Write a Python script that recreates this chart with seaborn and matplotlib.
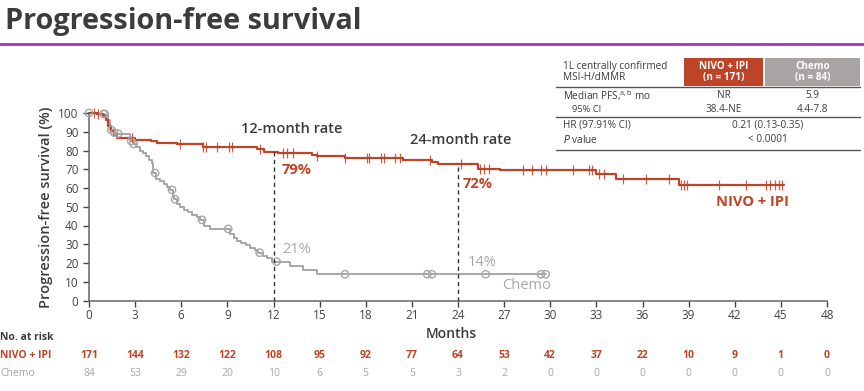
import numpy as np
import matplotlib
import matplotlib.pyplot as plt
import seaborn as sns
from matplotlib.patches import Rectangle
from matplotlib.lines import Line2D

matplotlib.use('Agg')

# --- data ---
nivo_times = [0, 0.5, 0.9, 1.1, 1.25, 1.4, 1.6, 1.85, 3.0, 4.0, 4.4, 5.7, 7.4, 10.9, 11.4,
              12.3, 14.5, 14.8, 16.65, 20.4, 22.3, 22.7, 25.3, 26.7, 33.0, 34.3, 38.4, 45.2]
nivo_pfs = [100, 99.3, 98.5, 96.5, 93, 90.5, 88.5, 86.5, 85.8, 85.2, 84.2, 83.3, 82.0, 80.6, 79.2,
            78.7, 77.5, 77.0, 76.0, 75.0, 73.7, 72.7, 70.3, 69.4, 67.7, 64.8, 61.6, 61.6]
nivo_censor = [0.3, 0.6, 2.8, 5.9, 7.4, 7.6, 8.3, 9.1, 9.3, 11.1, 12.6, 12.9, 13.3, 14.8, 16.65,
               18.1, 18.2, 19.0, 19.2, 19.9, 20.2, 22.2, 24.2, 25.4, 25.7, 26.0, 28.2, 28.8,
               29.4, 29.7, 31.5, 32.5, 32.7, 33.2, 33.5, 34.7, 36.2, 37.7, 38.5, 38.7, 38.9,
               41.0, 42.7, 44.0, 44.3, 44.6, 44.9, 45.1]

chemo_times = [0, 0.5, 1.05, 1.25, 1.35, 1.6, 1.8, 2.65, 2.9, 3.05, 3.3, 3.5, 3.7, 3.9, 4.1,
               4.15, 4.35, 4.6, 4.85, 5.1, 5.3, 5.45, 5.55, 5.75, 5.95, 6.2, 6.45, 6.7, 7.0,
               7.2, 7.5, 7.85, 9.15, 9.4, 9.65, 9.9, 10.2, 10.5, 10.8, 11.0, 11.3, 11.6, 11.9,
               13.05, 13.9, 14.8, 29.7]
chemo_pfs = [100, 99.5, 99, 96.5, 91, 89.5, 89, 85, 83.5, 82, 80, 78.5, 77, 75, 73.5,
             68, 65, 63.5, 62, 60.5, 59, 56, 54, 51.5, 50, 48.5, 47, 45.5, 44.5,
             43, 40, 38.2, 35.5, 33.5, 32, 30.5, 29.5, 28, 27, 25.5, 23.5, 22.5, 20.7,
             18.6, 16.3, 14.0, 14.0]
chemo_censor = [0, 0.95, 1.02, 1.45, 1.65, 1.9, 2.75, 2.9, 4.3, 5.4, 5.6, 7.35, 9.05, 11.1,
                12.2, 16.65, 22.0, 22.3, 25.8, 29.4, 29.7]

risk_months = list(range(0, 49, 3))
nivo_at_risk = [171, 144, 132, 122, 108, 95, 92, 77, 64, 53, 42, 37, 22, 10, 9, 1, 0]
chemo_at_risk = [84, 53, 29, 20, 10, 6, 5, 5, 3, 2, 0, 0, 0, 0, 0, 0, 0]

RED = '#bd4427'
GREY = '#a7a7a7'
DARK = '#3c3c3c'
W, H = 864, 391

sns.set_style('ticks')
plt.rcParams['font.family'] = ['Open Sans', 'DejaVu Sans']
plt.rcParams['mathtext.default'] = 'regular'


def px(x, y):
    return x / W, 1 - y / H


def step_value(times, vals, t):
    idx = np.searchsorted(times, t, side='right') - 1
    return np.asarray(vals)[idx]


fig = plt.figure(figsize=(W / 100, H / 100), dpi=100)
ax = fig.add_axes([89 / W, 90.5 / H, 738 / W, 187.5 / H])

# curves
sns.lineplot(x=chemo_times, y=chemo_pfs, ax=ax, color=GREY, lw=1.4,
             drawstyle='steps-post', estimator=None, clip_on=False)
sns.lineplot(x=nivo_times, y=nivo_pfs, ax=ax, color=RED, lw=1.6,
             drawstyle='steps-post', estimator=None, clip_on=False)

# censor marks
sns.scatterplot(x=chemo_censor, y=step_value(chemo_times, chemo_pfs, chemo_censor), ax=ax,
                marker='o', s=28, facecolor='none', edgecolor=GREY, linewidth=1.0,
                clip_on=False, zorder=4)
ax.plot(nivo_censor, step_value(nivo_times, nivo_pfs, nivo_censor), ls='none',
        marker='|', ms=6.5, mew=0.9, color=RED, alpha=0.85, clip_on=False, zorder=5)

# landmark lines
for m in (12, 24):
    yv = step_value(nivo_times, nivo_pfs, m)
    ax.plot([m, m], [0, yv], ls=(0, (3, 2.5)), color='#333333', lw=1.0, zorder=3)

ax.text(13.2, 91.5, '12-month rate', ha='center', va='center', fontsize=10.5,
        fontweight='semibold', color=DARK)
ax.text(24.2, 85.8, '24-month rate', ha='center', va='center', fontsize=10.5,
        fontweight='semibold', color=DARK)
ax.text(12.5, 69.8, '79%', ha='left', va='center', fontsize=10.5, fontweight='bold', color=RED)
ax.text(24.3, 62.3, '72%', ha='left', va='center', fontsize=10.5, fontweight='bold', color=RED)
ax.text(12.6, 27, '21%', ha='left', va='center', fontsize=10.5, color=GREY)
ax.text(24.6, 20, '14%', ha='left', va='center', fontsize=10.5, color=GREY)
ax.text(26.9, 7.8, 'Chemo', ha='left', va='center', fontsize=10.5, color=GREY)
ax.text(40.8, 52.7, 'NIVO + IPI', ha='left', va='center', fontsize=10.5,
        fontweight='bold', color=RED)

ax.set_xlim(0, 48)
ax.set_ylim(0, 100)
ax.set_xticks(risk_months)
ax.set_yticks(range(0, 101, 10))
ax.tick_params(axis='both', labelsize=8.5, colors='#444444', length=4, width=1)
ax.tick_params(axis='x', pad=2)
for s in ('left', 'bottom'):
    ax.spines[s].set_color('#666666')
    ax.spines[s].set_linewidth(1.1)
sns.despine(ax=ax)
ax.set_ylabel('Progression-free survival (%)', fontsize=10.5, fontweight='semibold',
              color=DARK, labelpad=4)
ax.set_xlabel('')

# title and rule
fig.text(*px(5, 21), 'Progression-free survival', fontsize=20.8, fontweight='bold',
         color=DARK, ha='left', va='center')
fig.add_artist(Line2D([0, 1], [1 - 43.5 / H] * 2, color='#b52fb5', lw=2))

# months label and at-risk table
fig.text(*px(451, 334), 'Months', fontsize=10, fontweight='semibold', color=DARK,
         ha='center', va='center')
fig.text(*px(0, 338), 'No. at risk', fontsize=7.5, fontweight='bold', color=DARK,
         ha='left', va='center')
fig.text(*px(0, 355), 'NIVO + IPI', fontsize=7.5, fontweight='bold', color=RED,
         ha='left', va='center')
fig.text(*px(0, 373), 'Chemo', fontsize=7.5, color=GREY, ha='left', va='center')
tr = ax.get_xaxis_transform()
for m, a, b in zip(risk_months, nivo_at_risk, chemo_at_risk):
    ax.text(m, -(355 - 300.5) / 187.5, str(a), transform=tr, ha='center', va='center',
            fontsize=7.5, fontweight='bold', color=RED, clip_on=False)
    ax.text(m, -(373 - 300.5) / 187.5, str(b), transform=tr, ha='center', va='center',
            fontsize=7.5, color=GREY, clip_on=False)

# summary table (top right)
fig.add_artist(Rectangle(px(684, 86), 79 / W, 28 / H, color=RED, lw=0))
fig.add_artist(Rectangle(px(765, 86), 95 / W, 28 / H, color='#a9a4a4', lw=0))
fs = 7.2
fig.text(*px(563, 72), '1L centrally confirmed\nMSI-H/dMMR', fontsize=fs, color=DARK,
         ha='left', va='center', linespacing=1.05)
fig.text(*px(723.5, 72), 'NIVO + IPI\n(n = 171)', fontsize=fs, color='white',
         fontweight='bold', ha='center', va='center', linespacing=1.05)
fig.text(*px(812.5, 72), 'Chemo\n(n = 84)', fontsize=fs, color='white',
         fontweight='bold', ha='center', va='center', linespacing=1.05)
for yy in (87, 117, 150):
    fig.add_artist(Line2D([556 / W, 860 / W], [1 - yy / H] * 2, color='#555555', lw=1.0))
fig.text(*px(563, 96), 'Median PFS,$^{a,b}$ mo', fontsize=fs, color=DARK, ha='left', va='center')
fig.text(*px(723.5, 96), 'NR', fontsize=fs, color=DARK, ha='center', va='center')
fig.text(*px(812.5, 96), '5.9', fontsize=fs, color=DARK, ha='center', va='center')
fig.text(*px(572, 109), '95% CI', fontsize=fs - 0.5, color=DARK, ha='left', va='center')
fig.text(*px(723.5, 109), '38.4-NE', fontsize=fs, color=DARK, ha='center', va='center')
fig.text(*px(812.5, 109), '4.4-7.8', fontsize=fs, color=DARK, ha='center', va='center')
fig.text(*px(563, 125), 'HR (97.91% CI)', fontsize=fs, color=DARK, ha='left', va='center')
fig.text(*px(768, 125), '0.21 (0.13-0.35)', fontsize=fs, color=DARK, ha='center', va='center')
fig.text(*px(563, 140), '$\\it{P}$ value', fontsize=fs, color=DARK, ha='left', va='center')
fig.text(*px(768, 140), '< 0.0001', fontsize=fs, color=DARK, ha='center', va='center')

fig.savefig('out.png', dpi=100)
